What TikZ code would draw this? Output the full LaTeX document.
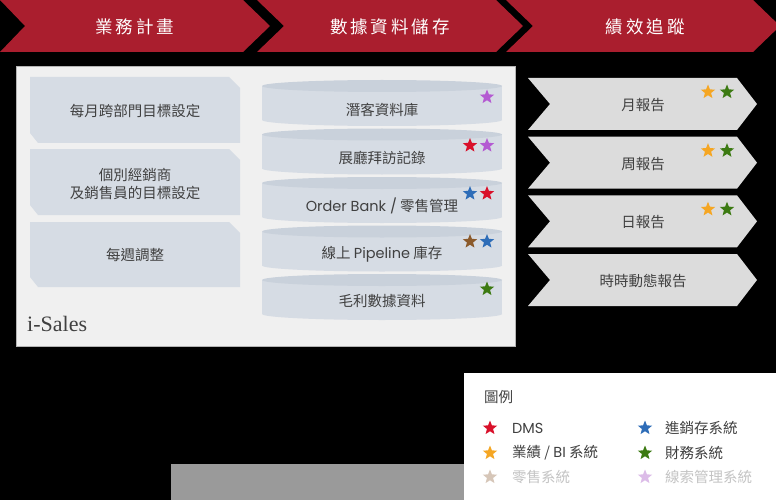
\documentclass[tikz,border=0pt]{standalone}
\usepackage{fontspec}
\setmainfont{Noto Sans CJK TC}
\newfontfamily\latf{Poppins}
\newfontfamily\serifl{Liberation Serif}
\usetikzlibrary{shapes.geometric}
\definecolor{titlered}{HTML}{AA1E2E}
\definecolor{panelc}{HTML}{F0F0F0}
\definecolor{panelb}{HTML}{B4B4B4}
\definecolor{boxc}{HTML}{D6DCE4}
\definecolor{cyltop}{HTML}{C9D1DB}
\definecolor{chevc}{HTML}{DCDCDC}
\definecolor{txt}{HTML}{404040}
\definecolor{sred}{HTML}{D9102A}
\definecolor{spurple}{HTML}{B45AD2}
\definecolor{sblue}{HTML}{2E6DB8}
\definecolor{sbrown}{HTML}{8B5A2B}
\definecolor{sgreen}{HTML}{3C7A12}
\definecolor{sorange}{HTML}{F5A623}
\definecolor{fbrown}{HTML}{D6C6B8}
\definecolor{fpurple}{HTML}{DCBCE8}
\definecolor{ftxt}{HTML}{C4C4C4}
\definecolor{greyblk}{HTML}{9A9A9A}
\begin{document}
\begin{tikzpicture}[x=1pt,y=-1pt,
  titletxt/.style={text=white,font=\fontsize{17.5}{20}\selectfont,inner sep=0pt},
  bodytxt/.style={text=txt,font=\fontsize{14.5}{18}\selectfont,inner sep=0pt,align=center},
  legtxt/.style={text=txt,font=\fontsize{14.5}{18}\selectfont,inner sep=0pt,anchor=west},
  fadetxt/.style={text=ftxt,font=\fontsize{14.5}{18}\selectfont,inner sep=0pt,anchor=west},
  starmark/.style={star,star points=5,star point ratio=2.3,minimum size=15pt,inner sep=0pt,fill=#1,draw=none}
]
\fill[black] (0,0) rectangle (776,500);
\useasboundingbox (0,0) rectangle (776,500);

% top chevrons
\fill[titlered] (0,0) -- (243,0) -- (270,26) -- (243,52) -- (0,52) -- (25,26) -- cycle;
\fill[titlered] (257,0) -- (496,0) -- (523,26) -- (496,52) -- (257,52) -- (284,26) -- cycle;
\fill[titlered] (506,0) -- (753,0) -- (780,26) -- (753,52) -- (506,52) -- (533,26) -- cycle;
\node[titletxt] (t1) at (135,27) {業\kern3pt 務\kern3pt 計\kern3pt 畫};
\node[titletxt] (t2) at (390,27) {數\kern3pt 據\kern3pt 資\kern3pt 料\kern3pt 儲\kern3pt 存};
\node[titletxt] (t3) at (645,27) {績\kern3pt 效\kern3pt 追\kern3pt 蹤};

% main panel
\filldraw[fill=panelc,draw=panelb,line width=0.8pt] (16,66) rectangle (515,346);

% left snipped boxes
\foreach \ya/\yb in {77/143,149/215,222/287}{
  \fill[boxc] (30,\ya) -- (229,\ya) -- (240,\ya+11) -- (240,\yb) -- (38,\yb) -- (30,\yb-10) -- cycle;
}
\node[bodytxt] (b1) at (135,111) {每月跨部門目標設定};
\node[bodytxt] (b2) at (135,184) {個別經銷商\\及銷售員的目標設定};
\node[bodytxt] (b3) at (135,255) {每週調整};
\node[text=txt,font=\serifl\fontsize{22}{24}\selectfont,inner sep=0pt,anchor=west] (isales) at (27,324) {i-Sales};

% cylinders
\foreach \t in {80,128.5,177,225.5,274}{
  \fill[boxc] (262,\t+6) rectangle (502,\t+40);
  \fill[boxc] (382,\t+40) ellipse [x radius=120,y radius=6];
  \fill[cyltop] (382,\t+6) ellipse [x radius=120,y radius=6];
}
\node[bodytxt] (d1) at (382,110) {潛客資料庫};
\node[bodytxt] (d2) at (382,158) {展廳拜訪記錄};
\node[bodytxt] (d3) at (382,206) {{\latf Order Bank /} 零售管理};
\node[bodytxt] (d4) at (382,254) {線上 {\latf Pipeline} 庫存};
\node[bodytxt] (d5) at (382,301) {毛利數據資料};

\node[starmark=spurple] (s11) at (487,97) {};
\node[starmark=sred] (s21) at (470,145.5) {};
\node[starmark=spurple] (s22) at (487,145.5) {};
\node[starmark=sblue] (s31) at (470,193.5) {};
\node[starmark=sred] (s32) at (487,193.5) {};
\node[starmark=sbrown] (s41) at (470,241.5) {};
\node[starmark=sblue] (s42) at (487,241.5) {};
\node[starmark=sgreen] (s51) at (487,289) {};

% right chevrons
\foreach \t in {78,136.7,195.3,254}{
  \fill[chevc] (528,\t) -- (737,\t) -- (757,\t+26) -- (737,\t+52) -- (528,\t+52) -- (550,\t+26) -- cycle;
}
\node[bodytxt] (r1) at (643,105) {月報告};
\node[bodytxt] (r2) at (643,164) {周報告};
\node[bodytxt] (r3) at (643,222) {日報告};
\node[bodytxt] (r4) at (643,281) {時時動態報告};
\foreach \t/\k in {78/1,136.7/2,195.3/3}{
  \node[starmark=sorange] (ro\k) at (708,\t+14) {};
  \node[starmark=sgreen] (rg\k) at (727,\t+14) {};
}

% grey block and legend
\fill[greyblk] (171,464) rectangle (464,500);
\fill[white] (464,373) rectangle (776,500);
\node[legtxt] (lt) at (484,397) {圖例};
\node[starmark=sred] (l1) at (490,428) {};
\node[legtxt] (l1t) at (512,428) {\latf DMS};
\node[starmark=sorange] (l2) at (490,453) {};
\node[legtxt] (l2t) at (512,453) {業績 / {\latf BI} 系統};
\node[starmark=fbrown] (l3) at (490,477) {};
\node[fadetxt] (l3t) at (512,477) {零售系統};
\node[starmark=sblue] (l4) at (645,428) {};
\node[legtxt] (l4t) at (665,428) {進銷存系統};
\node[starmark=sgreen] (l5) at (645,453) {};
\node[legtxt] (l5t) at (665,453) {財務系統};
\node[starmark=fpurple] (l6) at (645,477) {};
\node[fadetxt] (l6t) at (665,477) {線索管理系統};
\end{tikzpicture}
\end{document}
